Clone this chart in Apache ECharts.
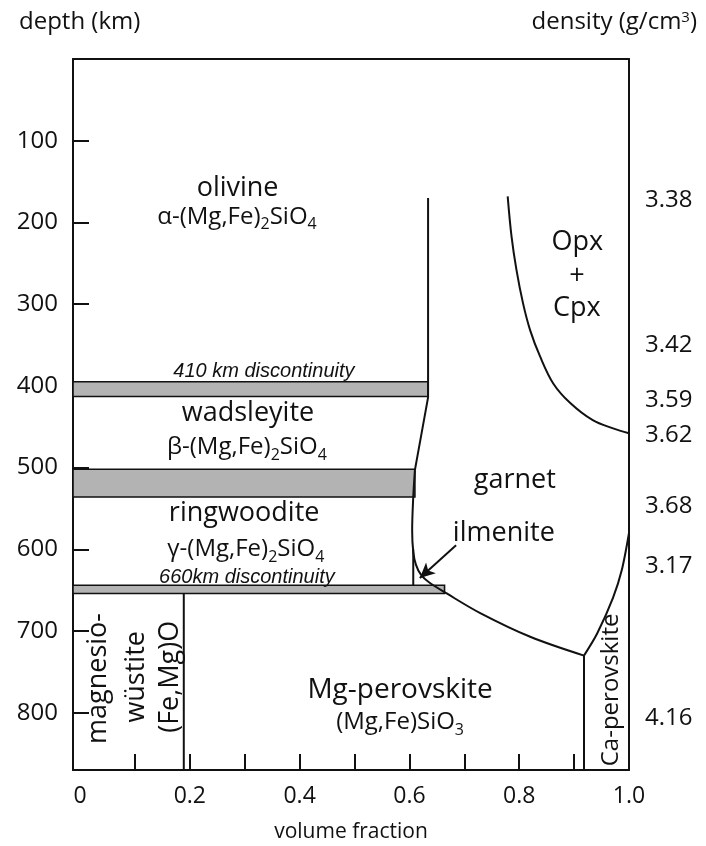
<!DOCTYPE html>
<html>
<head>
<meta charset="utf-8">
<script src="https://cdn.jsdelivr.net/npm/echarts@6/dist/echarts.min.js"></script>
<style>
  html, body { margin: 0; padding: 0; background: #ffffff; }
  #chart { width: 706px; height: 846px; }
</style>
</head>
<body>
<div id="chart"></div>
<script>
// ---- axes ----
const depthTicks = [100, 200, 300, 400, 500, 600, 700, 800];
const fractionTicks = [0.1, 0.2, 0.3, 0.4, 0.5, 0.6, 0.7, 0.8, 0.9];
const fractionLabels = [0, 0.2, 0.4, 0.6, 0.8, 1.0];

// density quoted on the right-hand side, and the depth (km) each value belongs to
const densityDepths = [173, 350, 417, 460, 547, 621, 806];
const densityValues = ['3.38', '3.42', '3.59', '3.62', '3.68', '3.17', '4.16'];

// transition-zone discontinuities: top depth, bottom depth, extent in volume fraction
const bandTop = [395, 502, 644];
const bandBottom = [413, 536, 654];
const bandEnd = [0.634, 0.610, 0.664];

// phase boundaries, [volume fraction, depth km]
const olivineEdge = [[0.634, 170], [0.634, 414], [0.610, 503]];
const garnetEdge = [[0.610, 503], [0.607, 536], [0.605, 577], [0.607, 603], [0.612, 619],
                    [0.621, 631], [0.635, 640], [0.668, 654], [0.729, 678], [0.820, 707], [0.918, 730]];
const opxCpxEdge = [[0.779, 168], [0.786, 217], [0.795, 258], [0.807, 299], [0.820, 332],
                    [0.838, 364], [0.862, 397], [0.893, 421], [0.934, 442], [0.971, 452], [1.0, 458]];
const ilmeniteEdge = [[0.607, 600], [0.607, 644]];
const caPerovskiteTop = [[0.918, 730], [0.942, 703], [0.971, 659], [0.987, 625], [1.0, 580]];
const caPerovskiteEdge = [[0.918, 730], [0.918, 870]];
const magnesiowustiteEdge = [[0.189, 654], [0.189, 870]];

// ilmenite pointer: tail and head
const ilmeniteArrow = [[0.685, 595], [0.619, 635]];

const INK = '#111111';
const SANS = '"Open Sans", "Noto Sans", "DejaVu Sans", sans-serif';
const ARIAL = '"Liberation Sans", Arial, sans-serif';
const X_MIN = -0.0128;

const formulaRich = {
  m: { fontSize: 24, fontFamily: SANS, color: INK, lineHeight: 32, verticalAlign: 'middle' },
  s: { fontSize: 16, fontFamily: SANS, color: INK, lineHeight: 16, verticalAlign: 'bottom' }
};

function note(x, d, text, extra) {
  return {
    value: [x, d],
    label: Object.assign({
      show: true, position: 'inside', formatter: text,
      fontSize: 27, fontFamily: SANS, color: INK, opacity: 1,
      align: 'center', verticalAlign: 'middle', rich: formulaRich
    }, extra || {})
  };
}

const italicNote = { fontSize: 20, fontFamily: ARIAL, fontStyle: 'italic' };

const notes = [
  note(0.287, 158, 'olivine'),
  note(0.286, 193, '{m|α-(Mg,Fe)}{s|2}{m|SiO}{s|4}'),
  note(0.335, 382, '410 km discontinuity', italicNote),
  note(0.306, 434, 'wadsleyite'),
  note(0.304, 475, '{m|β-(Mg,Fe)}{s|2}{m|SiO}{s|4}'),
  note(0.792, 515, 'garnet'),
  note(0.299, 556, 'ringwoodite'),
  note(0.302, 600, '{m|γ-(Mg,Fe)}{s|2}{m|SiO}{s|4}'),
  note(0.304, 634, '660km discontinuity', italicNote),
  note(0.772, 580, 'ilmenite'),
  note(0.906, 224, 'Opx'),
  note(0.905, 266, '+'),
  note(0.905, 305, 'Cpx'),
  note(0.033, 758, 'magnesio-', { rotate: 90 }),
  note(0.102, 756, 'wüstite', { rotate: 90 }),
  note(0.164, 756, '(Fe,Mg)O', { rotate: 90 }),
  note(0.583, 772, 'Mg-perovskite', { fontSize: 28 }),
  note(0.583, 812, '{m|(Mg,Fe)SiO}{s|3}'),
  note(0.967, 772, 'Ca-perovskite', { rotate: 90, fontSize: 24 })
];

function boundary(data, smooth) {
  return {
    type: 'line', data: data, smooth: smooth, symbol: 'none', showSymbol: false,
    lineStyle: { color: INK, width: 2 }, silent: true, z: 4, clip: false
  };
}

const axisLineStyle = { color: INK, width: 2 };

const chart = echarts.init(document.getElementById('chart'), null, { renderer: 'canvas' });

chart.setOption({
  animation: false,
  backgroundColor: '#ffffff',
  title: [
    { text: 'depth (km)', left: 14, top: 5,
      textStyle: { fontSize: 24, fontWeight: 'normal', fontFamily: SANS, color: INK } },
    { text: 'density (g/cm{sup|3})', right: 4, top: 5,
      textStyle: { fontSize: 24, fontWeight: 'normal', fontFamily: SANS, color: INK,
        rich: { sup: { fontSize: 15, fontFamily: SANS, color: INK, lineHeight: 15, verticalAlign: 'top' } } } }
  ],
  grid: { left: 73, right: 77, top: 59, bottom: 76, containLabel: false, outerBoundsMode: 'none' },
  xAxis: [
    {
      type: 'value', min: X_MIN, max: 1, position: 'bottom',
      axisLine: { show: true, onZero: false, lineStyle: axisLineStyle },
      axisTick: { show: true, inside: true, length: 16, customValues: fractionTicks, lineStyle: axisLineStyle },
      axisLabel: { customValues: fractionLabels, margin: 15, fontSize: 23, fontFamily: SANS, color: INK,
        formatter: v => (v === 0 ? '0' : v.toFixed(1)) },
      splitLine: { show: false },
      name: 'volume fraction', nameLocation: 'middle', nameGap: 52,
      nameTextStyle: { fontSize: 21, fontFamily: SANS, color: INK }
    },
    {
      type: 'value', min: X_MIN, max: 1, position: 'top',
      axisLine: { show: true, onZero: false, lineStyle: axisLineStyle },
      axisTick: { show: false }, axisLabel: { show: false }, splitLine: { show: false }
    }
  ],
  yAxis: [
    {
      type: 'value', inverse: true, min: 0, max: 870, position: 'left',
      axisLine: { show: true, onZero: false, lineStyle: axisLineStyle },
      axisTick: { show: true, inside: true, length: 16, customValues: depthTicks, lineStyle: axisLineStyle },
      axisLabel: { customValues: depthTicks, margin: 15, fontSize: 24, fontFamily: SANS, color: INK },
      splitLine: { show: false }
    },
    {
      type: 'value', inverse: true, min: 0, max: 870, position: 'right',
      axisLine: { show: true, onZero: false, lineStyle: axisLineStyle },
      axisTick: { show: false },
      axisLabel: { customValues: densityDepths, margin: 16, fontSize: 24, fontFamily: SANS, color: INK,
        formatter: v => densityValues[densityDepths.indexOf(v)] },
      splitLine: { show: false }
    }
  ],
  series: [
    {
      type: 'custom', name: 'discontinuities', silent: true, z: 3,
      data: bandTop.map((t, i) => [X_MIN, bandEnd[i], t, bandBottom[i]]),
      renderItem: function (params, api) {
        const a = api.coord([api.value(0), api.value(2)]);
        const b = api.coord([api.value(1), api.value(3)]);
        return {
          type: 'rect',
          shape: { x: a[0], y: a[1], width: b[0] - a[0], height: b[1] - a[1] },
          style: { fill: '#b3b3b3', stroke: INK, lineWidth: 1.6 }
        };
      }
    },
    boundary(olivineEdge, false),
    boundary(garnetEdge, 0.35),
    boundary(opxCpxEdge, 0.35),
    boundary(ilmeniteEdge, false),
    boundary(caPerovskiteTop, 0.3),
    boundary(caPerovskiteEdge, false),
    boundary(magnesiowustiteEdge, false),
    {
      type: 'scatter', name: 'labels', symbolSize: 0, silent: true, z: 6, clip: false,
      itemStyle: { opacity: 1 },
      data: notes,
      markLine: {
        silent: true, animation: false,
        symbol: ['none', 'arrow'], symbolSize: [11, 15],
        lineStyle: { color: INK, width: 2, type: 'solid', opacity: 1 },
        label: { show: false },
        data: [[{ coord: ilmeniteArrow[0] }, { coord: ilmeniteArrow[1] }]]
      }
    }
  ]
});
</script>
</body>
</html>
